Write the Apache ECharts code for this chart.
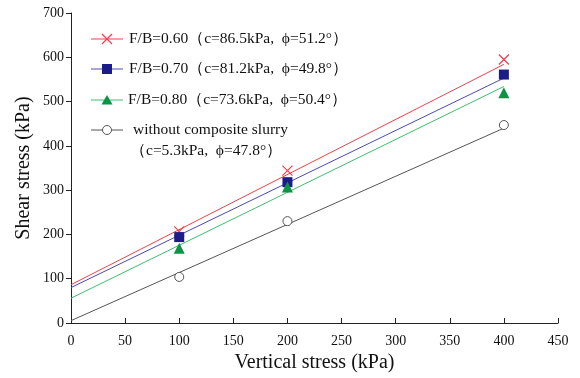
<!DOCTYPE html>
<html>
<head>
<meta charset="utf-8">
<script src="https://cdn.jsdelivr.net/npm/echarts@6/dist/echarts.min.js"></script>
<style>
html, body { margin: 0; padding: 0; background: #fff; }
#chart { width: 580px; height: 378px; }
</style>
</head>
<body>
<div id="chart"></div>
<script>
// Measured shear strength at each vertical stress
const verticalStress = [100, 200, 400];
const tauFB060 = [207, 344, 595];
const tauFB070 = [194, 318, 561];
const tauFB080 = [169, 307, 520];
const tauNoSlurry = [104, 230, 447];

// Fitted failure envelopes (value at vertical stress 0 and 400 kPa)
const fitX = [0, 400];
const fitFB060 = [86.5, 584];
const fitFB070 = [80, 553];
const fitFB080 = [56, 534];
const fitNoSlurry = [5.3, 440];

const legendNames = [
  'F/B=0.60（c=86.5kPa,  ϕ=51.2°）',
  'F/B=0.70（c=81.2kPa,  ϕ=49.8°）',
  'F/B=0.80（c=73.6kPa,  ϕ=50.4°）',
  'without composite slurry',
  '（c=5.3kPa,  ϕ=47.8°）'
];

const xTicks = [0, 50, 100, 150, 200, 250, 300, 350, 400, 450];
const yTicks = [0, 100, 200, 300, 400, 500, 600, 700];

const FONT = '"Liberation Serif", "Times New Roman", serif';
const RED = '#f0404c', BLUE = '#4a4ab4', GREEN = '#3cbf6e', GREY = '#555555';
const NAVY = '#1c1c88', DKGREEN = '#0a9444';

const pairs = (xs, ys) => xs.map((x, i) => [x, ys[i]]);

function fitLine(ys, color) {
  return { type: 'line', data: pairs(fitX, ys), symbol: 'none', silent: true,
    lineStyle: { color: color, width: 1 }, z: 2 };
}
function points(ys, symbol, size, style) {
  return { type: 'scatter', data: pairs(verticalStress, ys), symbol: symbol,
    symbolSize: size, itemStyle: Object.assign({ opacity: 1 }, style), z: 3 };
}

const crossPath = 'path://M0,0L10,10M10,0L0,10';

const chart = echarts.init(document.getElementById('chart'), null, { renderer: 'canvas' });

// Legend rows drawn as graphics: sample line, marker and text
const lgX1 = 91, lgX2 = 123, lgMid = 107;
const rowsY = [39, 69, 100, 130];
const lgColors = [RED, BLUE, GREEN, GREY];
const graphics = [];
rowsY.forEach((y, i) => {
  graphics.push({ type: 'line', shape: { x1: lgX1, y1: y, x2: lgX2, y2: y },
    style: { stroke: lgColors[i], lineWidth: 1 }, silent: true });
});
graphics.push(
  { type: 'line', shape: { x1: lgMid - 5, y1: rowsY[0] - 5, x2: lgMid + 5, y2: rowsY[0] + 5 }, style: { stroke: RED, lineWidth: 1.2 } },
  { type: 'line', shape: { x1: lgMid + 5, y1: rowsY[0] - 5, x2: lgMid - 5, y2: rowsY[0] + 5 }, style: { stroke: RED, lineWidth: 1.2 } },
  { type: 'rect', shape: { x: lgMid - 5, y: rowsY[1] - 5, width: 10, height: 10 }, style: { fill: NAVY } },
  { type: 'polygon', shape: { points: [[lgMid, rowsY[2] - 5], [lgMid + 5.5, rowsY[2] + 4.5], [lgMid - 5.5, rowsY[2] + 4.5]] }, style: { fill: DKGREEN } },
  { type: 'circle', shape: { cx: lgMid, cy: rowsY[3], r: 4.5 }, style: { fill: '#fff', stroke: GREY, lineWidth: 1 } }
);
const textPos = [[129, 39], [129, 69], [128, 100], [133, 130], [130, 151]];
legendNames.forEach((t, i) => {
  graphics.push({ type: 'text', x: textPos[i][0], y: textPos[i][1],
    style: { text: t, font: '15.5px ' + FONT, fill: '#111', verticalAlign: 'middle', align: 'left' } });
});

chart.setOption({
  animation: false,
  backgroundColor: '#fff',
  grid: { left: 71, right: 22, top: 13, bottom: 53, containLabel: false },
  xAxis: {
    type: 'value', min: xTicks[0], max: xTicks[xTicks.length - 1], interval: 50,
    name: 'Vertical stress (kPa)', nameLocation: 'middle', nameGap: 30,
    nameTextStyle: { fontFamily: FONT, fontSize: 20, color: '#111' },
    axisLine: { show: true, lineStyle: { color: '#222', width: 1 } },
    axisTick: { show: true, inside: true, length: 5, lineStyle: { color: '#222' } },
    axisLabel: { fontFamily: FONT, fontSize: 14, color: '#111', margin: 11 },
    splitLine: { show: false }
  },
  yAxis: {
    type: 'value', min: yTicks[0], max: yTicks[yTicks.length - 1], interval: 100,
    name: 'Shear stress (kPa)', nameLocation: 'middle', nameGap: 37,
    nameMoveOverlap: false,
    nameTextStyle: { fontFamily: FONT, fontSize: 20, color: '#111' },
    axisLine: { show: true, lineStyle: { color: '#222', width: 1 } },
    axisTick: { show: true, inside: false, length: 5, lineStyle: { color: '#222' } },
    axisLabel: { fontFamily: FONT, fontSize: 14, color: '#111', margin: 7 },
    splitLine: { show: false }
  },
  series: [
    fitLine(fitFB060, RED),
    fitLine(fitFB070, BLUE),
    fitLine(fitFB080, GREEN),
    fitLine(fitNoSlurry, GREY),
    points(tauFB060, crossPath, 10, { color: 'none', borderColor: RED, borderWidth: 1.2 }),
    points(tauFB070, 'rect', 10, { color: NAVY }),
    points(tauFB080, 'triangle', 11, { color: DKGREEN }),
    points(tauNoSlurry, 'circle', 9, { color: '#fff', borderColor: GREY, borderWidth: 1 })
  ],
  graphic: graphics
});
</script>
</body>
</html>
